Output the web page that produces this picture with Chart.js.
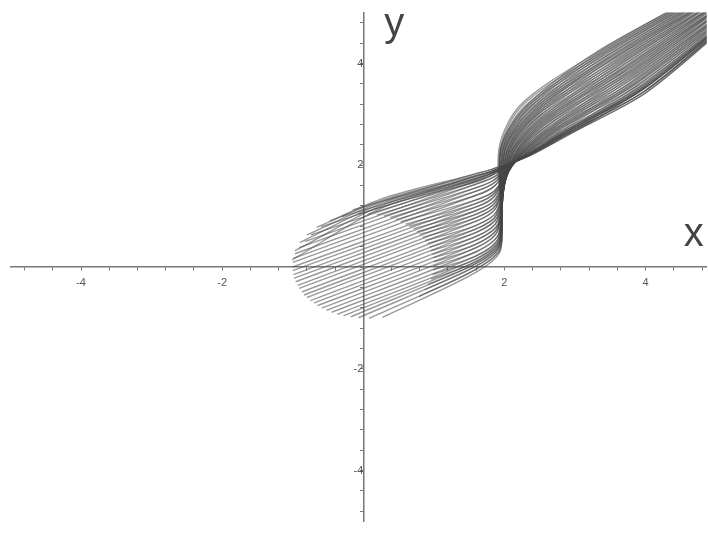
<!DOCTYPE html>
<html>
<head>
<meta charset="utf-8">
<script src="https://cdn.jsdelivr.net/npm/chart.js@4"></script>
<style>
  html, body { margin: 0; padding: 0; background: #fff; overflow: hidden; }
  #wrap { width: 708px; height: 534px; }
</style>
</head>
<body>
<div id="wrap"><canvas id="plot"></canvas></div>
<script>
// Outer strands start on the left rim; each then runs bend -> rise -> neck -> band -> far -> tail.
const startX = [0.27, 0.08, -0.07, -0.18, -0.28, -0.37, -0.45, -0.52, -0.59, -0.65, -0.70, -0.75, -0.80, -0.84, -0.87, -0.91, -0.93, -0.96, -0.98, -0.99, -1.00, -1.00, -1.00, -0.99, -0.97, -0.91, -0.83, -0.74, -0.60, -0.15];
const startY = [-0.99, -1.01, -1.00, -0.98, -0.96, -0.93, -0.89, -0.85, -0.81, -0.76, -0.71, -0.66, -0.60, -0.55, -0.49, -0.42, -0.36, -0.29, -0.22, -0.15, -0.07, 0.00, 0.09, 0.17, 0.26, 0.38, 0.50, 0.63, 0.79, 1.12];
const bendX = 1.6;
const bendY = [-0.10, -0.04, 0.02, 0.07, 0.11, 0.16, 0.22, 0.30, 0.38, 0.45, 0.53, 0.60, 0.68, 0.75, 0.82, 0.90, 0.97, 1.04, 1.11, 1.18, 1.25, 1.32, 1.41, 1.49, 1.56, 1.63, 1.69, 1.74, 1.79, 1.84];
const riseX = [1.95, 1.95, 1.94, 1.94, 1.93, 1.93, 1.92, 1.92, 1.91, 1.91, 1.91, 1.90, 1.90, 1.89, 1.89, 1.88, 1.88, 1.87, 1.87, 1.86, 1.86, 1.86, 1.85, 1.85, 1.84, 1.84, 1.83, 1.83, 1.82, 1.82];
const riseY = [0.35, 0.40, 0.44, 0.48, 0.51, 0.55, 0.59, 0.66, 0.73, 0.79, 0.85, 0.91, 0.98, 1.03, 1.09, 1.16, 1.22, 1.27, 1.33, 1.39, 1.45, 1.50, 1.58, 1.65, 1.70, 1.76, 1.81, 1.85, 1.88, 1.92];
const neckX = [1.92, 1.94, 1.95, 1.97, 1.98, 2.00, 2.01, 2.03, 2.04, 2.06, 2.07, 2.09, 2.10, 2.12, 2.13, 2.15, 2.16, 2.18, 2.19, 2.21, 2.22, 2.24, 2.25, 2.27, 2.28, 2.30, 2.31, 2.33, 2.34, 2.36];
const neckY = [2.30, 2.30, 2.29, 2.29, 2.28, 2.28, 2.28, 2.27, 2.27, 2.27, 2.26, 2.26, 2.25, 2.25, 2.25, 2.24, 2.24, 2.24, 2.23, 2.23, 2.22, 2.22, 2.22, 2.21, 2.21, 2.21, 2.20, 2.20, 2.19, 2.19];
const bandX = [2.23, 2.25, 2.28, 2.30, 2.33, 2.35, 2.37, 2.40, 2.42, 2.44, 2.46, 2.49, 2.51, 2.53, 2.55, 2.57, 2.59, 2.61, 2.64, 2.66, 2.68, 2.70, 2.72, 2.74, 2.76, 2.79, 2.81, 2.83, 2.85, 2.87];
const bandY = [3.19, 3.17, 3.15, 3.13, 3.11, 3.09, 3.07, 3.05, 3.03, 3.01, 2.99, 2.96, 2.94, 2.92, 2.90, 2.88, 2.86, 2.84, 2.81, 2.79, 2.77, 2.75, 2.73, 2.71, 2.69, 2.66, 2.64, 2.62, 2.60, 2.58];
const farX = [3.32, 3.34, 3.37, 3.39, 3.41, 3.44, 3.46, 3.48, 3.51, 3.53, 3.55, 3.58, 3.60, 3.63, 3.65, 3.67, 3.70, 3.72, 3.74, 3.77, 3.79, 3.81, 3.84, 3.86, 3.88, 3.91, 3.93, 3.95, 3.98, 4.00];
const farY = [4.22, 4.19, 4.17, 4.14, 4.11, 4.08, 4.05, 4.03, 4.00, 3.97, 3.94, 3.92, 3.89, 3.86, 3.83, 3.81, 3.78, 3.75, 3.72, 3.70, 3.67, 3.64, 3.61, 3.59, 3.56, 3.53, 3.50, 3.48, 3.45, 3.42];
const tailX = [4.80, 4.81, 4.83, 4.84, 4.86, 4.87, 4.88, 4.90, 4.91, 4.92, 4.94, 4.95, 4.97, 4.98, 4.99, 5.01, 5.02, 5.03, 5.05, 5.06, 5.08, 5.09, 5.10, 5.12, 5.13, 5.15, 5.16, 5.17, 5.19, 5.20];
const tailY = [5.39, 5.37, 5.35, 5.33, 5.31, 5.29, 5.27, 5.24, 5.23, 5.21, 5.18, 5.17, 5.14, 5.13, 5.11, 5.08, 5.07, 5.05, 5.02, 5.01, 4.98, 4.96, 4.95, 4.92, 4.90, 4.89, 4.86, 4.84, 4.82, 4.80];

// Inner strands start on the right rim and join outer strands 1..28 at the bend,
// with their own path through the band.
const innerX = [0.79, 0.87, 0.92, 0.96, 0.98, 0.99, 1.00, 1.00, 0.99, 0.98, 0.96, 0.94, 0.91, 0.88, 0.84, 0.80, 0.76, 0.71, 0.65, 0.60, 0.53, 0.46, 0.38, 0.29, 0.19, 0.07, -0.07, -0.30];
const innerY = [-0.58, -0.45, -0.34, -0.24, -0.15, -0.06, 0.02, 0.10, 0.18, 0.25, 0.32, 0.39, 0.46, 0.52, 0.58, 0.64, 0.69, 0.75, 0.80, 0.84, 0.89, 0.93, 0.97, 1.00, 1.02, 1.04, 1.04, 0.99];
const innerBandX = [2.30, 2.32, 2.34, 2.37, 2.39, 2.41, 2.43, 2.45, 2.47, 2.49, 2.52, 2.54, 2.56, 2.58, 2.60, 2.62, 2.64, 2.67, 2.69, 2.71, 2.73, 2.75, 2.77, 2.79, 2.82, 2.84, 2.86, 2.88];
const innerBandY = [3.15, 3.13, 3.11, 3.08, 3.06, 3.04, 3.02, 3.00, 2.98, 2.96, 2.93, 2.91, 2.89, 2.87, 2.85, 2.83, 2.81, 2.78, 2.76, 2.74, 2.72, 2.70, 2.68, 2.66, 2.63, 2.61, 2.59, 2.57];
const innerFarX = [3.31, 3.34, 3.36, 3.38, 3.41, 3.43, 3.45, 3.48, 3.50, 3.52, 3.55, 3.57, 3.60, 3.62, 3.64, 3.67, 3.69, 3.71, 3.74, 3.76, 3.78, 3.81, 3.83, 3.85, 3.88, 3.90, 3.92, 3.95];
const innerFarY = [4.23, 4.21, 4.18, 4.15, 4.12, 4.09, 4.07, 4.04, 4.01, 3.98, 3.96, 3.93, 3.90, 3.87, 3.85, 3.82, 3.79, 3.76, 3.74, 3.71, 3.68, 3.65, 3.63, 3.60, 3.57, 3.54, 3.52, 3.49];

// Rim strands hug the upper-left edge, then follow outer strand rimJoin[i] from the rise on.
const rimX = [-1.01, -0.97, -0.90, -0.80, -0.66, -0.48];
const rimY = [0.14, 0.32, 0.48, 0.63, 0.78, 0.90];
const rimMidX = 0.3;
const rimMidY = [1.18, 1.23, 1.27, 1.30, 1.33, 1.36];
const rimBendY = [1.67, 1.71, 1.74, 1.77, 1.80, 1.83];
const rimJoin = [26, 27, 27, 28, 28, 29];

// axis ticks (every 0.4) and the ones that carry a label
const tickValues = [-4.8, -4.4, -4, -3.6, -3.2, -2.8, -2.4, -2, -1.6, -1.2, -0.8, -0.4, 0, 0.4, 0.8, 1.2, 1.6, 2, 2.4, 2.8, 3.2, 3.6, 4, 4.4, 4.8];
const tickLabels = [-4, -2, 2, 4];

function strand(points) {
  return {
    data: points,
    showLine: true,
    borderColor: 'rgba(70,70,70,0.55)',
    borderWidth: 1.4,
    tension: 0.3,
    pointRadius: 0
  };
}

const datasets = [];
startX.forEach((sx, k) => {
  datasets.push(strand([
    {x: sx, y: startY[k]},
    {x: bendX, y: bendY[k]},
    {x: riseX[k], y: riseY[k]},
    {x: neckX[k], y: neckY[k]},
    {x: bandX[k], y: bandY[k]},
    {x: farX[k], y: farY[k]},
    {x: tailX[k], y: tailY[k]}
  ]));
});
innerX.forEach((sx, i) => {
  const k = i + 1;
  datasets.push(strand([
    {x: sx, y: innerY[i]},
    {x: bendX, y: bendY[k]},
    {x: riseX[k], y: riseY[k]},
    {x: neckX[k], y: neckY[k]},
    {x: innerBandX[i], y: innerBandY[i]},
    {x: innerFarX[i], y: innerFarY[i]},
    {x: tailX[k], y: tailY[k]}
  ]));
});
rimX.forEach((sx, i) => {
  const k = rimJoin[i];
  datasets.push(strand([
    {x: sx, y: rimY[i]},
    {x: rimMidX, y: rimMidY[i]},
    {x: bendX, y: rimBendY[i]},
    {x: riseX[k], y: riseY[k]},
    {x: neckX[k], y: neckY[k]},
    {x: bandX[k], y: bandY[k]},
    {x: farX[k], y: farY[k]},
    {x: tailX[k], y: tailY[k]}
  ]));
});

const axisNames = {
  id: 'axisNames',
  afterDraw(chart) {
    const {ctx, scales: {x, y}} = chart;
    ctx.save();
    ctx.fillStyle = '#444';
    ctx.font = '40px "Liberation Sans"';
    ctx.fillText('y', x.getPixelForValue(0) + 21, y.top + 23);
    ctx.fillText('x', x.right - 23, y.getPixelForValue(0) - 21);
    ctx.restore();
  }
};

function axis(min, max, where) {
  return {
    type: 'linear',
    min: min,
    max: max,
    position: where,
    afterBuildTicks: s => { s.ticks = tickValues.map(v => ({value: v})); },
    grid: { drawOnChartArea: false, drawTicks: true, tickLength: 3, color: '#777' },
    border: { display: true, color: '#777', width: 1.5 },
    ticks: {
      autoSkip: false,
      maxRotation: 0,
      padding: 6,
      color: '#555',
      font: { family: 'Liberation Sans', size: 11 },
      callback: v => tickLabels.includes(v) ? String(v) : ''
    }
  };
}

new Chart(document.getElementById('plot'), {
  type: 'scatter',
  data: { datasets: datasets },
  options: {
    responsive: true,
    maintainAspectRatio: false,
    animation: false,
    layout: { padding: { left: 10.5, right: 0, top: 11, bottom: 3 } },
    elements: { line: { capBezierPoints: false } },
    plugins: { legend: { display: false }, tooltip: { enabled: false } },
    scales: {
      x: axis(-5, 4.866, {y: 0}),
      y: axis(-5, 5, {x: 0})
    }
  },
  plugins: [axisNames]
});
</script>
</body>
</html>
